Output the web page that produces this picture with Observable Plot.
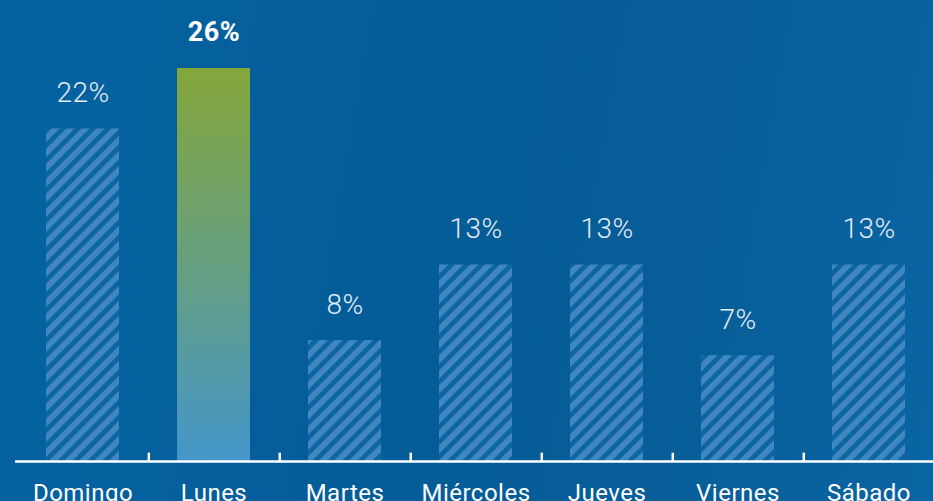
<!DOCTYPE html>
<html>
<head>
<meta charset="utf-8">
<script src="https://cdn.jsdelivr.net/npm/d3@7"></script>
<script src="https://cdn.jsdelivr.net/npm/@observablehq/plot@0.6"></script>
<style>
  html, body { margin: 0; padding: 0; width: 933px; height: 501px; overflow: hidden; }
  body { background: linear-gradient(100deg, #0563a2 0%, #045c98 45%, #065d97 70%, #0a65a3 100%); }
  #chart svg { display: block; background: transparent; }
</style>
</head>
<body>
<div id="chart"></div>
<script>
const days = ["Domingo", "Lunes", "Martes", "Miércoles", "Jueves", "Viernes", "Sábado"];
const values = [22, 26, 8, 13, 13, 7, 13];
const highlight = "Lunes";

const data = days.map((day, i) => ({day, value: values[i]}));
const xRange = [15, 936];
const step = (xRange[1] - xRange[0]) / days.length;

const chart = Plot.plot({
  width: 933,
  height: 501,
  marginLeft: 15,
  marginRight: 0,
  marginTop: 0,
  marginBottom: 40,
  style: {background: "transparent", overflow: "visible"},
  x: {domain: days, range: xRange, paddingInner: 0.44, paddingOuter: 0.22, label: null},
  y: {domain: [0, 26], range: [461, 68], axis: null},
  marks: [
    Plot.barY(data.filter(d => d.day !== highlight), {x: "day", y: "value", fill: "url(#hatch)"}),
    Plot.barY(data.filter(d => d.day === highlight), {x: "day", y: "value", fill: "url(#lunesGrad)"}),
    Plot.text(data.filter(d => d.day !== highlight), {
      x: "day", y: "value", text: d => d.value + "%", dy: -36, lineAnchor: "middle",
      fill: "#e4edf5", fontSize: 28, fontWeight: 300, fontFamily: "Roboto"
    }),
    Plot.text(data.filter(d => d.day === highlight), {
      x: "day", y: "value", text: d => d.value + "%", dy: -36, lineAnchor: "middle",
      fill: "#ffffff", fontSize: 27, fontWeight: 700, fontFamily: "Roboto"
    }),
    Plot.ruleY([0], {stroke: "#ffffff", strokeWidth: 2.5}),
    Plot.ruleX(days.slice(0, -1), {x: d => d, dx: step / 2, y1: 0, y2: 0.55, stroke: "#ffffff", strokeWidth: 2.5}),
    Plot.axisX({tickSize: 0, tickPadding: 22, fontSize: 24, fontWeight: 400, fontFamily: "Roboto", fill: "#ffffff", label: null})
  ]
});

d3.select(chart).insert("defs", ":first-child").html(`
  <pattern id="hatch" patternUnits="userSpaceOnUse" width="10.6" height="10.6" patternTransform="rotate(45)">
    <rect x="0" y="0" width="10.6" height="10.6" fill="#0d65a3"></rect>
    <rect x="0" y="0" width="5.8" height="10.6" fill="#4087bf"></rect>
  </pattern>
  <linearGradient id="lunesGrad" x1="0" y1="0" x2="0" y2="1">
    <stop offset="0%" stop-color="#84a63a"></stop>
    <stop offset="50%" stop-color="#669f7f"></stop>
    <stop offset="100%" stop-color="#4496ca"></stop>
  </linearGradient>
`);
d3.select(chart).selectAll("text").style("letter-spacing", "0.5px");

document.getElementById("chart").appendChild(chart);
</script>
</body>
</html>
